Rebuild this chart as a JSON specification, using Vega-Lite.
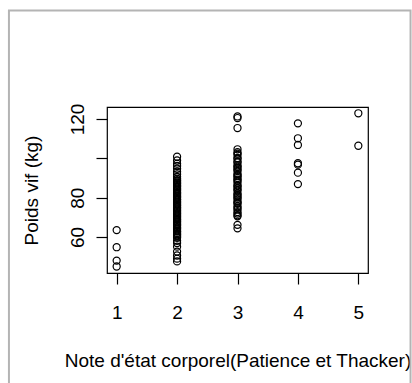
{
  "$schema": "https://vega.github.io/schema/vega-lite/v6.json",
  "width": 261,
  "height": 166,
  "autosize": {"type": "none"},
  "padding": {"left": 107, "top": 107, "right": 44, "bottom": 110},
  "background": "white",
  "config": {
    "view": {"stroke": "black", "strokeWidth": 1.2},
    "font": "Liberation Sans",
    "axis": {
      "domain": false,
      "grid": false,
      "tickColor": "black",
      "tickSize": 11,
      "tickWidth": 1.2,
      "labelFont": "Liberation Sans",
      "labelFontSize": 19,
      "labelColor": "black",
      "titleFont": "Liberation Sans",
      "titleFontSize": 19,
      "titleFontWeight": "normal",
      "titleColor": "black"
    }
  },
  "datasets": {
    "pts": [
      {"note": 1, "poids": 63.5}, {"note": 1, "poids": 54.8}, {"note": 1, "poids": 48.0}, {"note": 1, "poids": 45.0},
      {"note": 4, "poids": 117.8}, {"note": 4, "poids": 110.2}, {"note": 4, "poids": 106.8}, {"note": 4, "poids": 97.5}, {"note": 4, "poids": 96.8}, {"note": 4, "poids": 92.7}, {"note": 4, "poids": 86.9},
      {"note": 5, "poids": 122.9}, {"note": 5, "poids": 106.4},
      {"note": 3, "poids": 121.3}, {"note": 3, "poids": 120.5}, {"note": 3, "poids": 115.4}, {"note": 3, "poids": 104.6}, {"note": 3, "poids": 103.1}, {"note": 3, "poids": 102.4}, {"note": 3, "poids": 101.7}, {"note": 3, "poids": 100.2}, {"note": 3, "poids": 99.8}, {"note": 3, "poids": 98.4}, {"note": 3, "poids": 97.9}, {"note": 3, "poids": 96.5}, {"note": 3, "poids": 95.8}, {"note": 3, "poids": 95.1}, {"note": 3, "poids": 94.2}, {"note": 3, "poids": 93.6}, {"note": 3, "poids": 92.1}, {"note": 3, "poids": 91.4}, {"note": 3, "poids": 90.9}, {"note": 3, "poids": 90.0}, {"note": 3, "poids": 89.2}, {"note": 3, "poids": 88.6}, {"note": 3, "poids": 87.7}, {"note": 3, "poids": 86.3}, {"note": 3, "poids": 85.9}, {"note": 3, "poids": 85.0}, {"note": 3, "poids": 84.1}, {"note": 3, "poids": 83.6}, {"note": 3, "poids": 82.2}, {"note": 3, "poids": 81.5}, {"note": 3, "poids": 80.8}, {"note": 3, "poids": 80.0}, {"note": 3, "poids": 79.3}, {"note": 3, "poids": 78.1}, {"note": 3, "poids": 77.4}, {"note": 3, "poids": 76.9}, {"note": 3, "poids": 75.6}, {"note": 3, "poids": 74.8}, {"note": 3, "poids": 74.0}, {"note": 3, "poids": 72.7}, {"note": 3, "poids": 71.9}, {"note": 3, "poids": 71.0}, {"note": 3, "poids": 70.5}, {"note": 3, "poids": 66.2}, {"note": 3, "poids": 64.4},
      {"note": 2, "poids": 100.8}, {"note": 2, "poids": 98.9}, {"note": 2, "poids": 97.3}, {"note": 2, "poids": 96.1}, {"note": 2, "poids": 94.7}, {"note": 2, "poids": 93.2}, {"note": 2, "poids": 91.9}, {"note": 2, "poids": 90.6}, {"note": 2, "poids": 89.6},
      {"note": 2, "poids": 88.9}, {"note": 2, "poids": 88.3}, {"note": 2, "poids": 87.6}, {"note": 2, "poids": 87.2}, {"note": 2, "poids": 86.5}, {"note": 2, "poids": 85.9}, {"note": 2, "poids": 85.4}, {"note": 2, "poids": 84.6}, {"note": 2, "poids": 84.1}, {"note": 2, "poids": 83.5}, {"note": 2, "poids": 82.8}, {"note": 2, "poids": 82.3}, {"note": 2, "poids": 81.7}, {"note": 2, "poids": 81.0}, {"note": 2, "poids": 80.5}, {"note": 2, "poids": 79.9}, {"note": 2, "poids": 79.2}, {"note": 2, "poids": 78.8}, {"note": 2, "poids": 78.0}, {"note": 2, "poids": 77.6}, {"note": 2, "poids": 76.9}, {"note": 2, "poids": 76.3}, {"note": 2, "poids": 75.8}, {"note": 2, "poids": 75.0}, {"note": 2, "poids": 74.6}, {"note": 2, "poids": 73.9}, {"note": 2, "poids": 73.4}, {"note": 2, "poids": 72.7}, {"note": 2, "poids": 72.1}, {"note": 2, "poids": 71.6}, {"note": 2, "poids": 70.9}, {"note": 2, "poids": 70.4}, {"note": 2, "poids": 69.8}, {"note": 2, "poids": 69.1}, {"note": 2, "poids": 68.7}, {"note": 2, "poids": 68.0}, {"note": 2, "poids": 67.5}, {"note": 2, "poids": 66.8}, {"note": 2, "poids": 66.2}, {"note": 2, "poids": 65.7}, {"note": 2, "poids": 65.0}, {"note": 2, "poids": 64.4}, {"note": 2, "poids": 63.9}, {"note": 2, "poids": 63.1}, {"note": 2, "poids": 62.7}, {"note": 2, "poids": 62.0}, {"note": 2, "poids": 61.4}, {"note": 2, "poids": 60.9}, {"note": 2, "poids": 60.2}, {"note": 2, "poids": 59.6},
      {"note": 2, "poids": 58.1}, {"note": 2, "poids": 56.9}, {"note": 2, "poids": 55.1}, {"note": 2, "poids": 52.6}, {"note": 2, "poids": 50.6}, {"note": 2, "poids": 49.0}, {"note": 2, "poids": 47.6}
    ]
  },
  "layer": [
    {
      "data": {"values": [{}]},
      "mark": {"type": "rect", "fill": null, "fillOpacity": 0, "stroke": "#b4b4b4", "strokeWidth": 2, "clip": false},
      "encoding": {
        "x": {"datum": -0.783, "type": "quantitative", "scale": {"domain": [0.84, 5.16], "nice": false, "zero": false}},
        "x2": {"datum": 5.864},
        "y": {"datum": 175.2, "type": "quantitative", "scale": {"domain": [41.7, 126.1], "nice": false, "zero": false}},
        "y2": {"datum": -80}
      }
    },
    {
      "data": {"name": "pts"},
      "mark": {"type": "point", "shape": "circle", "filled": false, "color": "black", "strokeWidth": 1.2, "size": 50, "opacity": 1},
      "encoding": {
        "x": {
          "field": "note", "type": "quantitative",
          "scale": {"domain": [0.84, 5.16], "nice": false, "zero": false},
          "axis": {"values": [1, 2, 3, 4, 5], "format": "d", "labelPadding": 19, "title": "Note d'état corporel(Patience et Thacker)", "titlePadding": 29}
        },
        "y": {
          "field": "poids", "type": "quantitative",
          "scale": {"domain": [41.7, 126.1], "nice": false, "zero": false},
          "axis": {"values": [60, 80, 100, 120], "format": "d", "labelAngle": -90, "labelAlign": "center", "labelBaseline": "middle", "labelPadding": 19, "labelOverlap": false, "labelExpr": "datum.value == 100 ? '' : datum.label", "title": "Poids vif (kg)", "titlePadding": 27}
        }
      }
    }
  ]
}
